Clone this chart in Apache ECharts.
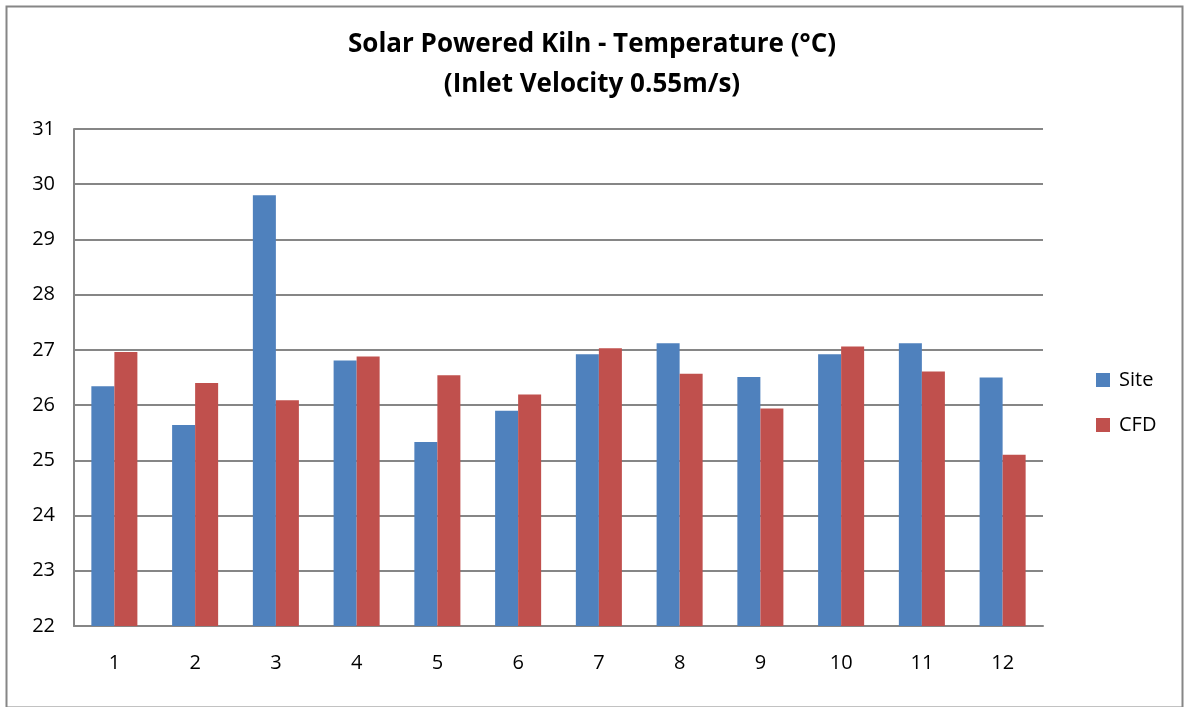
<!DOCTYPE html>
<html><head><meta charset="utf-8">
<script src="https://cdn.jsdelivr.net/npm/echarts@6/dist/echarts.min.js"></script>
<style>html,body{margin:0;padding:0;background:#fff}#c{width:1184px;height:707px}</style>
</head><body><div id="c"></div>
<script>
const categories = ['1','2','3','4','5','6','7','8','9','10','11','12'];
const siteValues = [26.34, 25.64, 29.8, 26.81, 25.33, 25.9, 26.92, 27.12, 26.51, 26.92, 27.12, 26.5];
const cfdValues  = [26.96, 26.4, 26.09, 26.88, 26.54, 26.19, 27.03, 26.57, 25.94, 27.06, 26.61, 25.1];
const seriesNames = ['Site', 'CFD'];
const titleLines = ['Solar Powered Kiln - Temperature (°C)', '(Inlet Velocity 0.55m/s)'];

const chart = echarts.init(document.getElementById('c'));
const font = 'Open Sans, Liberation Sans, sans-serif';
chart.setOption({
  backgroundColor: '#fff',
  animation: false,
  graphic: [{
    type: 'rect', left: 4, top: 4,
    shape: { width: 1176, height: 701 },
    style: { fill: 'none', stroke: '#868686', lineWidth: 2 }
  }],
  title: {
    text: titleLines.join('\n'),
    left: 'center', top: 20,
    textStyle: { fontFamily: font, fontWeight: 'bold', fontSize: 26, color: '#000', lineHeight: 40 }
  },
  legend: {
    orient: 'vertical', left: 1091, top: 365,
    itemWidth: 14, itemHeight: 14, itemGap: 25,
    icon: 'rect',
    textStyle: { fontFamily: font, fontSize: 20, color: '#000', padding: [0, 0, 0, 4] },
    data: seriesNames
  },
  grid: { left: 74, right: 141, top: 129, bottom: 81 },
  xAxis: {
    type: 'category', data: categories,
    axisLine: { lineStyle: { color: '#868686', width: 2 } },
    axisTick: { show: false },
    axisLabel: { fontFamily: font, fontSize: 20, color: '#000', margin: 27 }
  },
  yAxis: {
    type: 'value', min: 22, max: 31, interval: 1,
    axisLine: { show: true, lineStyle: { color: '#868686', width: 2 } },
    axisTick: { show: false },
    splitLine: { lineStyle: { color: '#868686', width: 2 } },
    axisLabel: { fontFamily: font, fontSize: 20, color: '#000', margin: 19 }
  },
  series: [
    { name: seriesNames[0], type: 'bar', data: siteValues, barGap: '0%', barCategoryGap: '43%',
      itemStyle: { color: '#4F81BD' } },
    { name: seriesNames[1], type: 'bar', data: cfdValues, barGap: '0%', barCategoryGap: '43%',
      itemStyle: { color: '#C0504D' } }
  ]
});
</script></body></html>
